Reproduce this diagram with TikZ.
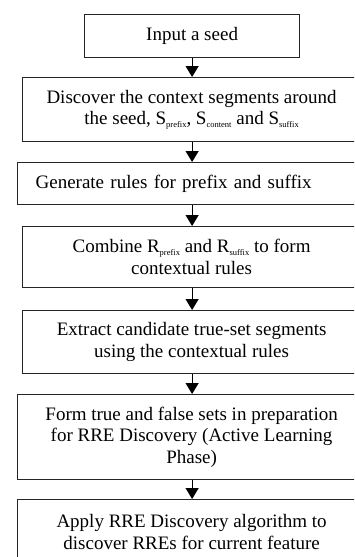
\documentclass[tikz,border=0pt]{standalone}
\usepackage{fontspec}
\setmainfont{Liberation Serif}
\usetikzlibrary{arrows.meta}
\newcommand{\sub}[1]{\raisebox{-2.5pt}{\fontsize{8.5}{8.5}\selectfont #1}}
\begin{document}
\begin{tikzpicture}[x=1pt,y=-1pt,
  stepbox/.style={draw=black!85, line width=1.2pt, rectangle, inner sep=0pt,
    anchor=north west, font=\fontsize{19}{21.5}\selectfont, align=center},
  flow/.style={draw=black, line width=1.2pt, -{Triangle[width=13pt,length=11pt]}}]
  \useasboundingbox (0,0) rectangle (354,557);
  \clip (0,0) rectangle (354,557);
  \fill[white] (0,0) rectangle (354,557);

  \node[stepbox, minimum width=215pt, minimum height=43pt] (seed) at (84,14)
    {Input a seed};
  \node[stepbox, minimum width=338pt, minimum height=64pt] (ctx) at (22,77)
    {Discover the context segments around\\ the seed, S\sub{prefix}, S\sub{content} and S\sub{suffix}};
  \node[stepbox, minimum width=348pt, minimum height=42pt, text width=330pt, align=left] (gen) at (17,162)
    {\hspace*{9pt}Generate rules for prefix and suffix};
  \node[stepbox, minimum width=338pt, minimum height=61pt] (comb) at (22,226)
    {Combine R\sub{prefix} and R\sub{suffix} to form\\ contextual rules};
  \node[stepbox, minimum width=338pt, minimum height=63pt] (extr) at (22,310)
    {Extract candidate true-set segments\\ using the contextual rules};
  \node[stepbox, minimum width=348pt, minimum height=85pt] (sets) at (17,394)
    {Form true and false sets in preparation\\ for RRE Discovery (Active Learning\\ Phase)};
  \node[stepbox, minimum width=348pt, minimum height=65pt] (rre) at (17,499)
    {Apply RRE Discovery algorithm to\\ discover RREs for current feature};

  \draw[flow] (seed.south) -- (ctx.north -| seed.south);
  \draw[flow] (ctx.south -| seed.south) -- (gen.north -| seed.south);
  \draw[flow] (gen.south -| seed.south) -- (comb.north -| seed.south);
  \draw[flow] (comb.south -| seed.south) -- (extr.north -| seed.south);
  \draw[flow] (extr.south -| seed.south) -- (sets.north -| seed.south);
  \draw[flow] (sets.south -| seed.south) -- (rre.north -| seed.south);
\end{tikzpicture}
\end{document}
